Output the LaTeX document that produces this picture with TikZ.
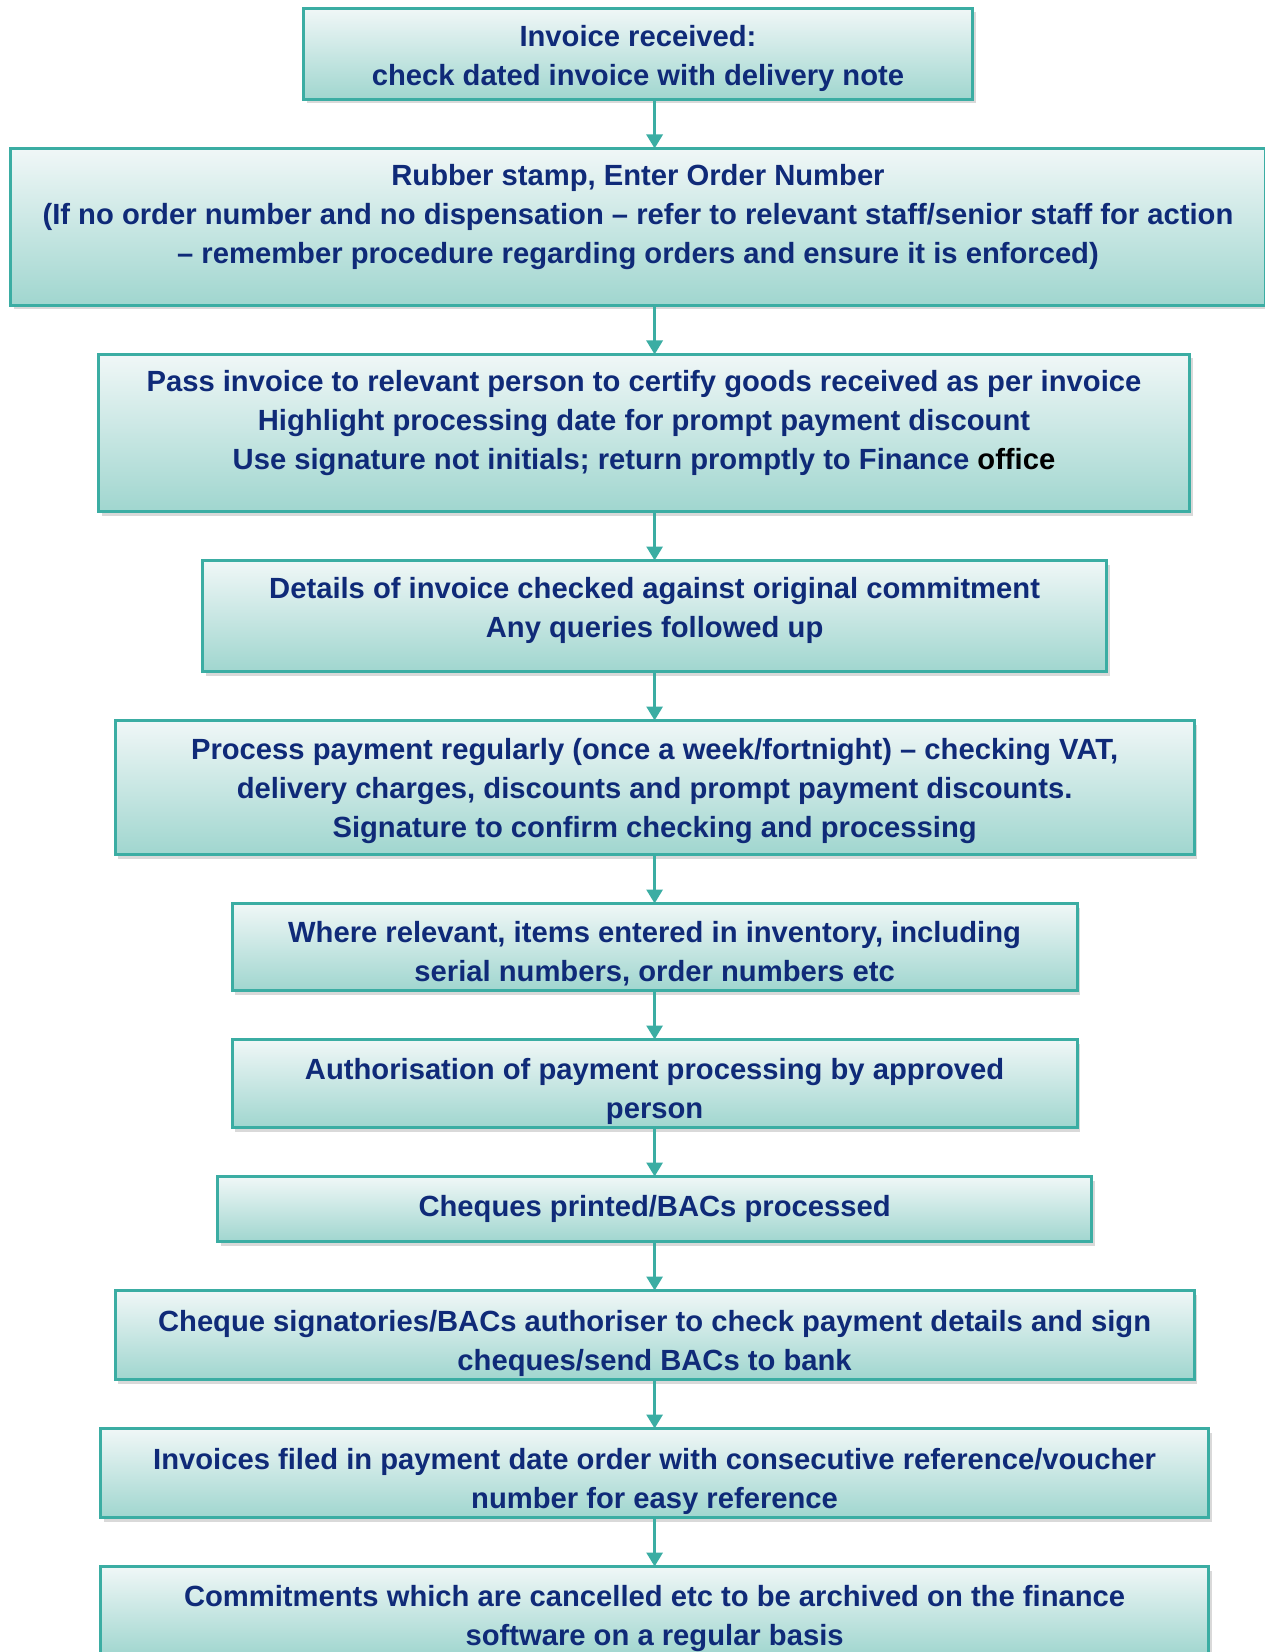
\documentclass[tikz,border=0pt]{standalone}
\usepackage{xcolor}
\usepackage{fontspec}
\setmainfont{Liberation Sans}
\usepackage{tikz}
\usetikzlibrary{arrows.meta,positioning,shadows}
\definecolor{flowteal}{HTML}{3BADA3}
\definecolor{flownavy}{HTML}{0F2A78}
\definecolor{flowlight}{HTML}{F0F7F7}
\definecolor{flowdeep}{HTML}{A0D6CF}
\tikzset{
  stepbox/.style={
    draw=flowteal,
    line width=1.5pt,
    top color=flowlight,
    bottom color=flowdeep,
    drop shadow={shadow xshift=1.5pt, shadow yshift=-2pt, opacity=0.3},
    text=flownavy,
    align=center,
    inner xsep=4pt,
    inner ysep=0pt,
    outer sep=0pt,
    font=\fontsize{14.6}{19.5}\selectfont\bfseries
  },
  steplink/.style={
    -{Triangle[length=7pt,width=8pt]},
    line width=1.5pt,
    draw=flowteal
  }
}

\begin{document}
\begin{tikzpicture}[x=0.5pt, y=-0.5pt, node distance=24.5pt]
  \useasboundingbox (0,0) rectangle (1264,1652);

  \node[stepbox, minimum width=334.5pt, minimum height=45.5pt] (b1) at (638,54)
    {\rule{0pt}{14.7pt}Invoice received:\\check dated invoice with delivery note};
  \node[stepbox, minimum width=627.5pt, minimum height=78.5pt, below=of b1] (b2)
    {Rubber stamp, Enter Order Number\\
     (If no order number and no dispensation -- refer to relevant staff/senior staff for action\\
     -- remember procedure regarding orders and ensure it is enforced)\rule[-13pt]{0pt}{13pt}};
  \node[stepbox, minimum width=545.5pt, minimum height=78.5pt, below=of b2, xshift=3pt] (b3)
    {Pass invoice to relevant person to certify goods received as per invoice\\
     Highlight processing date for prompt payment discount\\
     Use signature not initials; return promptly to Finance \textcolor{black}{office}\rule[-13pt]{0pt}{13pt}};
  \node[stepbox, minimum width=452pt, minimum height=55.5pt, below=of b3, xshift=5.3pt] (b4)
    {Details of invoice checked against original commitment\\
     Any queries followed up\rule[-9pt]{0pt}{9pt}};
  \node[stepbox, minimum width=539.5pt, minimum height=67pt, below=of b4] (b5)
    {\rule{0pt}{13.7pt}Process payment regularly (once a week/fortnight) -- checking VAT,\\
     delivery charges, discounts and prompt payment discounts.\\
     Signature to confirm checking and processing};
  \node[stepbox, minimum width=422.5pt, minimum height=43.5pt, below=of b5] (b6)
    {\rule{0pt}{16.9pt}Where relevant, items entered in inventory, including\\
     serial numbers, order numbers etc};
  \node[stepbox, minimum width=422.5pt, minimum height=44pt, below=of b6] (b7)
    {\rule{0pt}{18.9pt}Authorisation of payment processing by approved\\person};
  \node[stepbox, minimum width=437pt, minimum height=32.5pt, below=of b7] (b8)
    {Cheques printed/BACs processed};
  \node[stepbox, minimum width=539.5pt, minimum height=44.5pt, below=of b8] (b9)
    {\rule{0pt}{18.9pt}Cheque signatories/BACs authoriser to check payment details and sign\\
     cheques/send BACs to bank};
  \node[stepbox, minimum width=554pt, minimum height=44.5pt, below=of b9] (b10)
    {\rule{0pt}{18.9pt}Invoices filed in payment date order with consecutive reference/voucher\\
     number for easy reference};
  \node[stepbox, minimum width=554pt, minimum height=44.5pt, below=of b10] (b11)
    {\rule{0pt}{17.9pt}Commitments which are cancelled etc to be archived on the finance\\
     software on a regular basis};

  \draw[steplink] (b4.north |- b1.south) -- (b4.north |- b2.north);
  \draw[steplink] (b4.north |- b2.south) -- (b4.north |- b3.north);
  \draw[steplink] (b4.north |- b3.south) -- (b4.north);
  \draw[steplink] (b4.south) -- (b5.north);
  \draw[steplink] (b5.south) -- (b6.north);
  \draw[steplink] (b6.south) -- (b7.north);
  \draw[steplink] (b7.south) -- (b8.north);
  \draw[steplink] (b8.south) -- (b9.north);
  \draw[steplink] (b9.south) -- (b10.north);
  \draw[steplink] (b10.south) -- (b11.north);
\end{tikzpicture}
\end{document}
